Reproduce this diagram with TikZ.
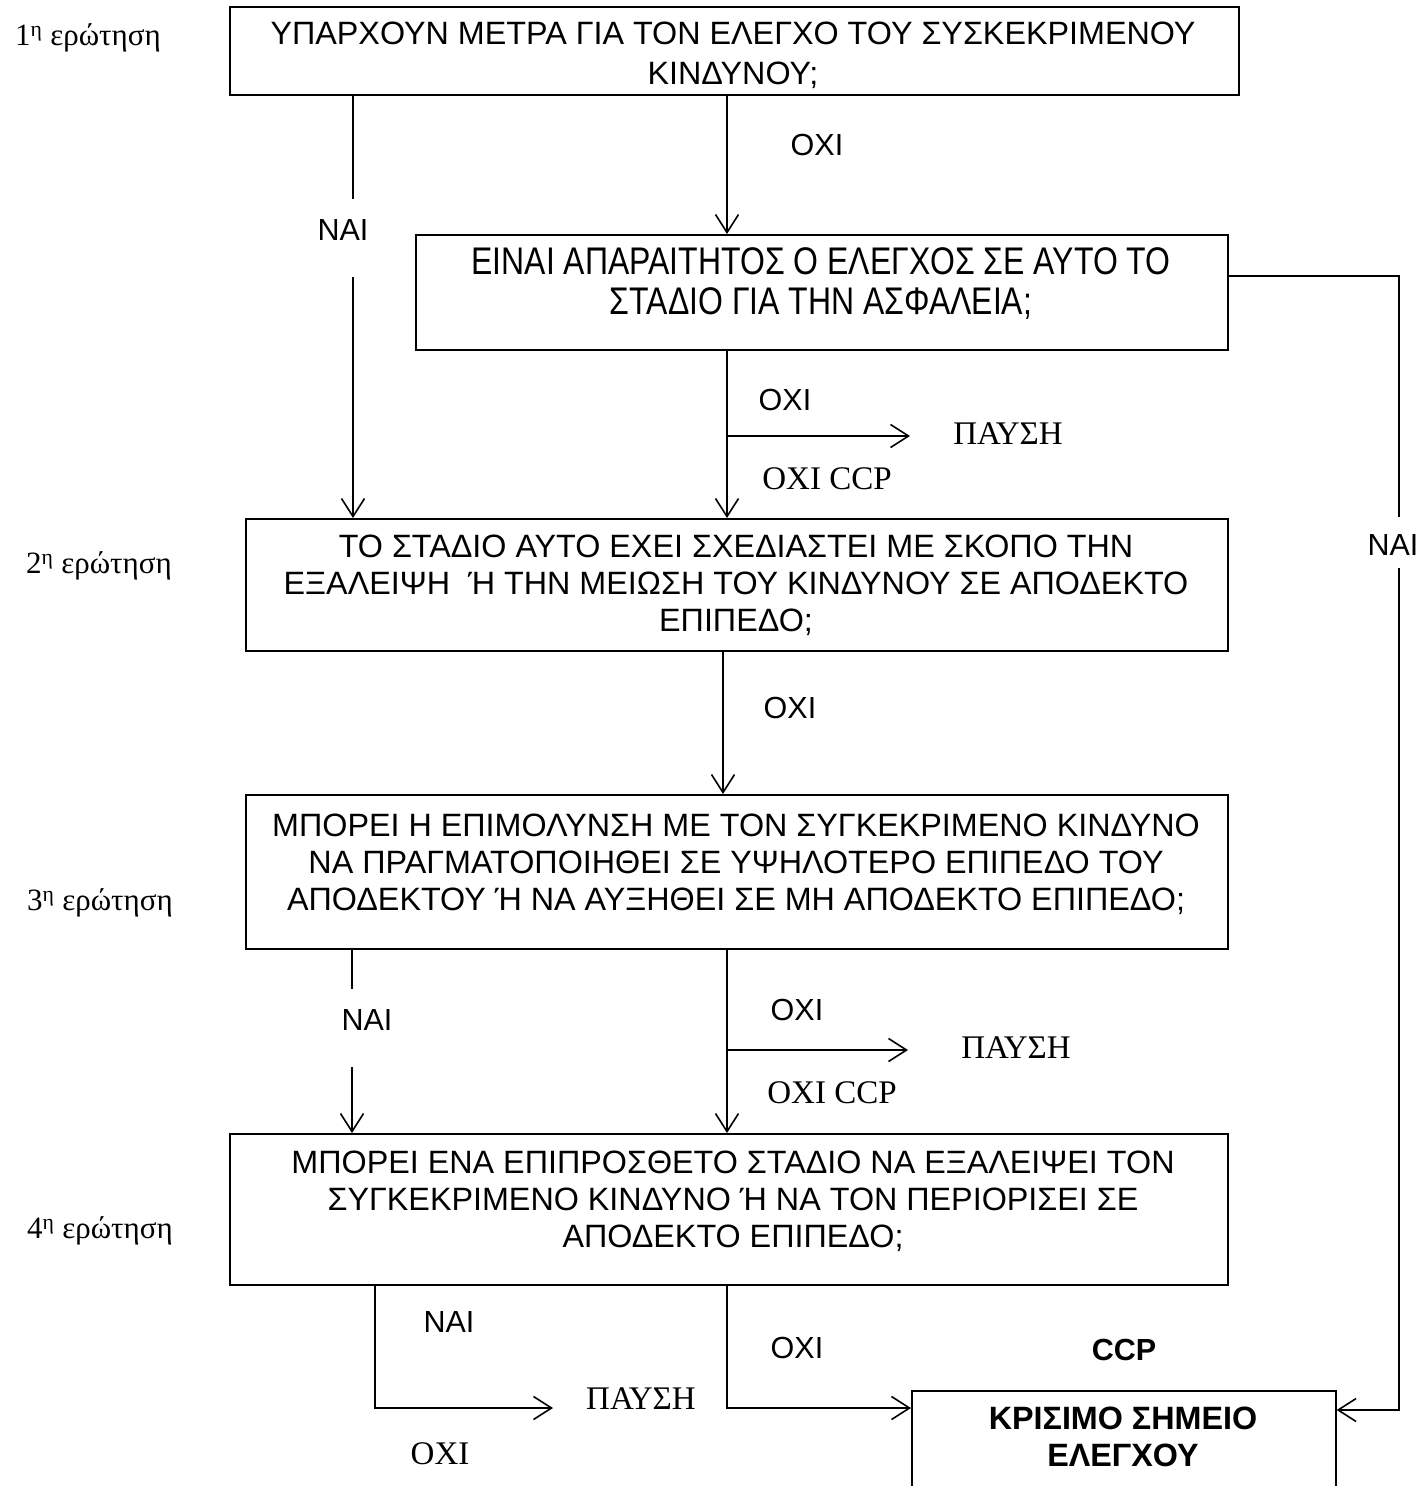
\documentclass[tikz,border=0pt]{standalone}
\usepackage{fontspec}
\setmainfont{Liberation Sans}
\newfontfamily\tnr{Liberation Serif}
\newfontfamily\narrowsans[FakeStretch=0.83]{Liberation Sans}
\usetikzlibrary{arrows.meta}
\begin{document}
\begin{tikzpicture}[x=1pt,y=-1pt,line width=1.6pt,
  box/.style={draw,line width=1.6pt,inner sep=0pt,anchor=north west},
  btext/.style={align=center,inner sep=0pt,font=\fontsize{32.3}{37}\selectfont},
  sanslbl/.style={inner sep=0pt,font=\fontsize{30.5}{36}\selectfont},
  seriflbl/.style={inner sep=0pt,font=\tnr\fontsize{33}{36}\selectfont},
  qlbl/.style={inner sep=0pt,font=\tnr\fontsize{31}{36}\selectfont},
  arr/.style={-{Straight Barb[length=18pt,width=23pt,line width=1.6pt]}}]
\useasboundingbox (0,0) rectangle (1419,1486);

% boxes
\node[box,minimum width=1009pt,minimum height=88pt] (q1) at (229,6) {};
\node[box,minimum width=812pt,minimum height=115pt] (q2) at (415,234) {};
\node[box,minimum width=982pt,minimum height=132pt] (q3) at (245,518) {};
\node[box,minimum width=982pt,minimum height=154pt] (q4) at (245,794) {};
\node[box,minimum width=998pt,minimum height=151pt] (q5) at (229,1133) {};
\node[box,minimum width=424pt,minimum height=140pt] (ccp) at (911,1390) {};

% box texts
\node[btext,font=\fontsize{32.3}{40}\selectfont] (t1) at (733,55) {ΥΠΑΡΧΟΥΝ ΜΕΤΡΑ ΓΙΑ ΤΟΝ ΕΛΕΓΧΟ ΤΟΥ ΣΥΣΚΕΚΡΙΜΕΝΟΥ\\ΚΙΝΔΥΝΟΥ;};
\node[btext,font=\narrowsans\fontsize{38.5}{40}\selectfont] (t2) at (821,284) {ΕΙΝΑΙ ΑΠΑΡΑΙΤΗΤΟΣ Ο ΕΛΕΓΧΟΣ ΣΕ ΑΥΤΟ ΤΟ\\ΣΤΑΔΙΟ ΓΙΑ ΤΗΝ ΑΣΦΑΛΕΙΑ;};
\node[btext] (t3) at (736,585) {ΤΟ ΣΤΑΔΙΟ ΑΥΤΟ ΕΧΕΙ ΣΧΕΔΙΑΣΤΕΙ ΜΕ ΣΚΟΠΟ ΤΗΝ\\ΕΞΑΛΕΙΨΗ \ Ή ΤΗΝ ΜΕΙΩΣΗ ΤΟΥ ΚΙΝΔΥΝΟΥ ΣΕ ΑΠΟΔΕΚΤΟ\\ΕΠΙΠΕΔΟ;};
\node[btext] (t4) at (736,864) {ΜΠΟΡΕΙ Η ΕΠΙΜΟΛΥΝΣΗ ΜΕ ΤΟΝ ΣΥΓΚΕΚΡΙΜΕΝΟ ΚΙΝΔΥΝΟ\\ΝΑ ΠΡΑΓΜΑΤΟΠΟΙΗΘΕΙ ΣΕ ΥΨΗΛΟΤΕΡΟ ΕΠΙΠΕΔΟ ΤΟΥ\\ΑΠΟΔΕΚΤΟΥ Ή ΝΑ ΑΥΞΗΘΕΙ ΣΕ ΜΗ ΑΠΟΔΕΚΤΟ ΕΠΙΠΕΔΟ;};
\node[btext] (t5) at (733,1201) {ΜΠΟΡΕΙ ΕΝΑ ΕΠΙΠΡΟΣΘΕΤΟ ΣΤΑΔΙΟ ΝΑ ΕΞΑΛΕΙΨΕΙ ΤΟΝ\\ΣΥΓΚΕΚΡΙΜΕΝΟ ΚΙΝΔΥΝΟ Ή ΝΑ ΤΟΝ ΠΕΡΙΟΡΙΣΕΙ ΣΕ\\ΑΠΟΔΕΚΤΟ ΕΠΙΠΕΔΟ;};
\node[btext,font=\bfseries\fontsize{32.3}{37}\selectfont] (t6) at (1123,1437) {ΚΡΙΣΙΜΟ ΣΗΜΕΙΟ\\ΕΛΕΓΧΟΥ};

% question labels
\node[qlbl] (k1) at (88,38) {1\textsuperscript{η} ερώτηση};
\node[qlbl] (k2) at (99,566) {2\textsuperscript{η} ερώτηση};
\node[qlbl] (k3) at (100,903) {3\textsuperscript{η} ερώτηση};
\node[qlbl] (k4) at (100,1231) {4\textsuperscript{η} ερώτηση};

% connector labels
\node[sanslbl] (n1) at (343,230) {ΝΑΙ};
\node[sanslbl] (o1) at (817,145) {ΟΧΙ};
\node[sanslbl] (n2) at (1393,545) {ΝΑΙ};
\node[sanslbl] (o2) at (785,400) {ΟΧΙ};
\node[seriflbl] (p1) at (1008,434) {ΠΑΥΣΗ};
\node[seriflbl] (c1) at (827,479) {ΟΧΙ CCP};
\node[sanslbl] (o3) at (790,708) {ΟΧΙ};
\node[sanslbl] (n3) at (367,1020) {ΝΑΙ};
\node[sanslbl] (o4) at (797,1010) {ΟΧΙ};
\node[seriflbl] (p2) at (1016,1048) {ΠΑΥΣΗ};
\node[seriflbl] (c2) at (832,1093) {ΟΧΙ CCP};
\node[sanslbl] (n4) at (449,1322) {ΝΑΙ};
\node[sanslbl] (o5) at (797,1348) {ΟΧΙ};
\node[sanslbl,font=\bfseries\fontsize{30.5}{36}\selectfont] (ccplbl) at (1124,1350) {CCP};
\node[seriflbl] (p3) at (641,1399) {ΠΑΥΣΗ};
\node[seriflbl] (o6) at (440,1454) {ΟΧΙ};

% guide coordinates
\coordinate (xL) at (353,0);
\coordinate (xM) at (727,0);
\coordinate (xM2) at (723,0);
\coordinate (xR) at (1399,0);
\coordinate (xB) at (375,0);
\coordinate (g1a) at (353,199);
\coordinate (g1b) at (353,277);
\coordinate (r0) at (1227,276);
\coordinate (g2a) at (1399,517);
\coordinate (g2b) at (1399,568);
\coordinate (yC) at (0,1410);
\coordinate (b1) at (727,436);
\coordinate (e1) at (910,436);
\coordinate (g3a) at (352,989);
\coordinate (g3b) at (352,1067);
\coordinate (b2) at (727,1050);
\coordinate (e2) at (908,1050);
\coordinate (e3) at (553,1408);
\coordinate (yD) at (0,1408);

% connectors
\draw (q1.south -| xL) -- (g1a);
\draw[arr] (g1b) -- (q3.north -| xL);
\draw[arr] (q1.south -| xM) -- (q2.north -| xM);
\draw (q2.east |- r0) -- (r0 -| xR) -- (g2a);
\draw[arr] (g2b) |- (ccp.east |- yC);
\draw[arr] (q2.south -| xM) -- (q3.north -| xM);
\draw[arr] (b1) -- (e1);
\draw[arr] (q3.south -| xM2) -- (q4.north -| xM2);
\draw (q4.south -| g3a) -- (g3a);
\draw[arr] (g3b) -- (q5.north -| g3b);
\draw[arr] (q4.south -| xM) -- (q5.north -| xM);
\draw[arr] (b2) -- (e2);
\draw[arr] (q5.south -| xB) |- (e3);
\draw[arr] (q5.south -| xM) |- (ccp.west |- yD);
\end{tikzpicture}
\end{document}
